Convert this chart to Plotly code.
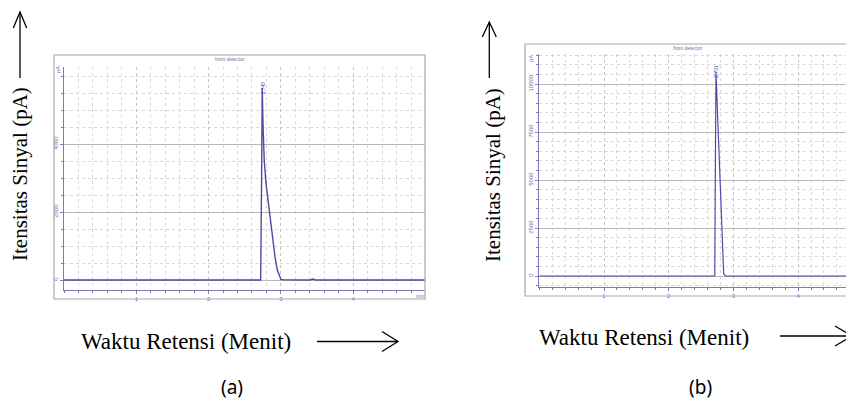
import plotly.graph_objects as go

# page body has an 8px margin: the figure is drawn 846x391 so that it ends at the window edge
OFF = 8
W, H = 846, 391

# ---------------- data ----------------
time_a = [0, 2.72, 2.733, 2.742, 2.748, 2.755, 2.77, 2.794, 2.84, 2.881, 2.92, 2.95, 2.98, 3.0, 3.05, 3.40, 3.44, 3.48, 5.0]
signal_a = [0, 0, 3000, 5650, 5000, 4400, 3500, 2840, 2050, 1270, 650, 294, 90, 20, 5, 0, 30, 0, 0]
peak_a_label = "2.745"
yticks_a = [0, 2000, 4000]

time_b = [0, 2.712, 2.72, 2.731, 2.76, 2.80, 2.835, 2.85, 2.88, 4.9]
signal_b = [0, 0, 5000, 10640, 8000, 4200, 800, 100, 0, 0]
peak_b_label = "2.731"
yticks_b = [0, 2500, 5000, 7500, 10000]

xticks = [1, 2, 3, 4]

ylabel = "Itensitas Sinyal (pA)"
xlabel = "Waktu Retensi (Menit)"
panel_titles = ["(a)", "(b)"]
det_title = "front detector"

LINE = "#4b4ba6"
AXC = "#7b7bb5"
TXT = "#6f6fb0"


def px(x):
    return (x - OFF) / W


def py(y):
    return 1 - (y - OFF) / H


fig = go.Figure()
fig.add_trace(go.Scatter(x=time_a, y=signal_a, mode="lines", line=dict(color=LINE, width=1.4),
                         xaxis="x", yaxis="y", showlegend=False, hoverinfo="skip"))
fig.add_trace(go.Scatter(x=time_b, y=signal_b, mode="lines", line=dict(color=LINE, width=1.2),
                         xaxis="x2", yaxis="y2", showlegend=False, hoverinfo="skip"))


def xax(domain, rng):
    return dict(domain=domain, range=rng, tickvals=xticks, ticks="outside", ticklen=3,
                tickcolor=AXC, showline=True, linecolor=AXC, linewidth=1,
                tickfont=dict(size=6, color=TXT, family="Liberation Sans"),
                showgrid=True, gridcolor="#c4c4c4", griddash="dot", gridwidth=1,
                zeroline=False, fixedrange=True,
                minor=dict(dtick=0.2, tick0=0, showgrid=True, gridcolor="#d8d8d8", griddash="dot",
                           ticks="outside", ticklen=2, tickcolor=AXC))


def yax(domain, rng, tv, anchor, major, minor):
    return dict(domain=domain, range=rng, tickvals=tv, ticks="outside", ticklen=3,
                anchor=anchor, tickcolor=AXC, showline=True, linecolor=AXC, linewidth=1,
                tickangle=-90, tickformat="d",
                tickfont=dict(size=6, color=TXT, family="Liberation Sans"),
                showgrid=True, gridcolor="#b8b8b8", gridwidth=1, zeroline=False, fixedrange=True,
                dtick=major,
                minor=dict(dtick=minor, tick0=0, showgrid=True, gridcolor="#d8d8d8", griddash="dot",
                           ticks="outside", ticklen=2, tickcolor=AXC))


fig.update_layout(
    width=W, height=H, margin=dict(l=0, r=0, t=0, b=0),
    paper_bgcolor="white", plot_bgcolor="white",
    xaxis=dict(**xax([px(64), px(425)], [0, 361 / 72.3]), anchor="y"),
    yaxis=yax([py(290), py(67)], [-294, 6265], yticks_a, "x", 2000, 500),
    xaxis2=dict(**xax([px(539.3), 1.0], [0, (854 - 539.3) / 64.7]), anchor="y2"),
    yaxis2=yax([py(286.7), py(54)], [-557, 11563], yticks_b, "x2", 2500, 500),
)

shapes = []
# frame (a)
shapes.append(dict(type="rect", xref="paper", yref="paper", x0=px(54), x1=px(425), y0=py(299), y1=py(55),
                   line=dict(color="#a8a8a8", width=1.2)))
# frame (b) (cut off at right)
shapes.append(dict(type="path", xref="paper", yref="paper",
                   path=f"M {px(860)} {py(44)} L {px(525)} {py(44)} L {px(525)} {py(296)} L {px(860)} {py(296)}",
                   line=dict(color="#a8a8a8", width=1.2)))


def arrow_v(x, ybot, ytop, wing_dx, wing_dy):
    return [
        dict(type="line", xref="paper", yref="paper", x0=px(x), x1=px(x), y0=py(ybot), y1=py(ytop),
             line=dict(color="black", width=1.3)),
        dict(type="path", xref="paper", yref="paper",
             path=f"M {px(x - wing_dx)} {py(ytop + wing_dy)} L {px(x)} {py(ytop)} L {px(x + wing_dx)} {py(ytop + wing_dy)}",
             line=dict(color="black", width=1.3)),
    ]


def arrow_h(x0, x1, y, wing_dx, wing_dy):
    return [
        dict(type="line", xref="paper", yref="paper", x0=px(x0), x1=px(x1), y0=py(y), y1=py(y),
             line=dict(color="black", width=1.3)),
        dict(type="path", xref="paper", yref="paper",
             path=f"M {px(x1 - wing_dx)} {py(y - wing_dy)} L {px(x1)} {py(y)} L {px(x1 - wing_dx)} {py(y + wing_dy)}",
             line=dict(color="black", width=1.3)),
    ]


shapes += arrow_v(20, 78, 12, 6.7, 16)
shapes += arrow_v(489.3, 78, 22, 7, 15)
shapes += arrow_h(317, 398, 341.5, 16, 10)
shapes += arrow_h(780, 852, 336, 17, 10)
fig.update_layout(shapes=shapes)

ann = []
serif = "Liberation Serif, Times New Roman, serif"
ann.append(dict(text=ylabel, xref="paper", yref="paper", x=px(20), y=py(174), textangle=-90,
                showarrow=False, font=dict(family=serif, size=21, color="black"),
                xanchor="center", yanchor="middle"))
ann.append(dict(text=ylabel, xref="paper", yref="paper", x=px(493), y=py(175), textangle=-90,
                showarrow=False, font=dict(family=serif, size=21, color="black"),
                xanchor="center", yanchor="middle"))
ann.append(dict(text=xlabel, xref="paper", yref="paper", x=px(186), y=py(341), showarrow=False,
                font=dict(family=serif, size=23, color="black"), xanchor="center", yanchor="middle"))
ann.append(dict(text=xlabel, xref="paper", yref="paper", x=px(644), y=py(337), showarrow=False,
                font=dict(family=serif, size=23, color="black"), xanchor="center", yanchor="middle"))
ann.append(dict(text=panel_titles[0], xref="paper", yref="paper", x=px(232), y=py(387), showarrow=False,
                font=dict(family="Noto Sans", size=19, color="black"), xanchor="center", yanchor="middle"))
ann.append(dict(text=panel_titles[1], xref="paper", yref="paper", x=px(700), y=py(387), showarrow=False,
                font=dict(family="Noto Sans", size=19, color="black"), xanchor="center", yanchor="middle"))
# detector titles
ann.append(dict(text=det_title, xref="paper", yref="paper", x=px(230), y=py(59.5), showarrow=False,
                font=dict(family="Liberation Sans", size=5, color=TXT), xanchor="center", yanchor="middle"))
ann.append(dict(text=det_title, xref="paper", yref="paper", x=px(688), y=py(48.5), showarrow=False,
                font=dict(family="Liberation Sans", size=5, color=TXT), xanchor="center", yanchor="middle"))
# pA units
ann.append(dict(text="pA", xref="paper", yref="paper", x=px(58), y=py(70), textangle=-90, showarrow=False,
                font=dict(family="Liberation Sans", size=6, color=TXT), xanchor="center", yanchor="middle"))
ann.append(dict(text="pA", xref="paper", yref="paper", x=px(531), y=py(59), textangle=-90, showarrow=False,
                font=dict(family="Liberation Sans", size=6, color=TXT), xanchor="center", yanchor="middle"))
# min unit
ann.append(dict(text="min", xref="paper", yref="paper", x=px(420), y=py(296), showarrow=False,
                font=dict(family="Liberation Sans", size=5, color=TXT), xanchor="center", yanchor="middle"))
# peak labels
ann.append(dict(text=peak_a_label, xref="x", yref="y", x=2.745, y=5650, textangle=-90, showarrow=False,
                font=dict(family="Liberation Sans", size=5, color=LINE), xanchor="center", yanchor="middle"))
ann.append(dict(text=peak_b_label, xref="x2", yref="y2", x=2.731, y=10640, textangle=-90, showarrow=False,
                font=dict(family="Liberation Sans", size=5, color=LINE), xanchor="center", yanchor="middle"))
fig.update_layout(annotations=ann)

fig.write_html("out.html")
